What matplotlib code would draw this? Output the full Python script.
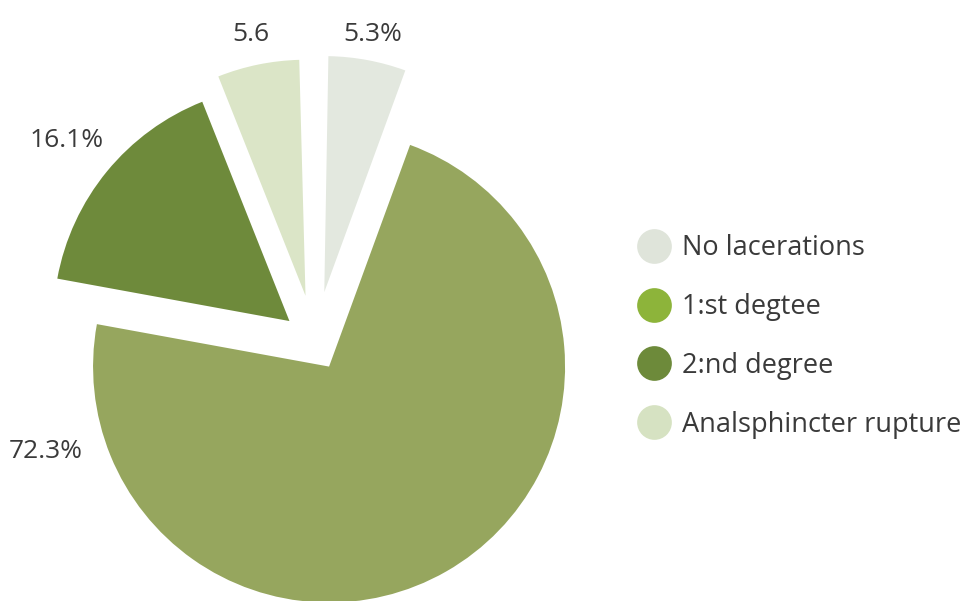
import matplotlib.pyplot as plt
from matplotlib.lines import Line2D

# values go clockwise from the top, in percent
categories = ["No lacerations", "1:st degtee", "2:nd degree", "Analsphincter rupture"]
shares = [5.3, 72.3, 16.1, 5.6]
value_labels = ["5.3%", "72.3%", "16.1%", "5.6"]

slice_colors = ["#e3e8df", "#96a65e", "#6e8a3b", "#dbe5c7"]
legend_colors = ["#dfe4da", "#8db43a", "#6d8a3a", "#d6e2c2"]
explode = [0.215, 0.12, 0.14, 0.20]

# where each value label sits, in pie-radius units from the centre
label_pos = [(0.244, 1.301), (-1.141, -0.462), (-1.053, 0.852), (-0.273, 1.301)]

plt.rcParams['font.family'] = ['Open Sans', 'DejaVu Sans']
text_color = "#3a3a3a"

fig = plt.figure(figsize=(9.65, 6.01), dpi=100)
W, H = 965, 601
cx, cy, half = 315.0, 342.0, 354.0
ax = fig.add_axes([(cx - half) / W, (H - cy - half) / H, 2 * half / W, 2 * half / H])

# shares don't add up to 100, so keep them unnormalised (leaves a small gap)
ax.pie([s / 100 for s in shares], explode=explode, colors=slice_colors,
       startangle=89, counterclock=False, normalize=False, radius=1.0,
       wedgeprops=dict(linewidth=0))
ax.set_xlim(-1.5, 1.5)
ax.set_ylim(-1.5, 1.5)
ax.set_aspect('equal')
ax.axis('off')

for txt, (x, y) in zip(value_labels, label_pos):
    ax.text(x, y, txt, ha='center', va='center', fontsize=19, color=text_color)

handles = [Line2D([], [], linestyle='', marker='o', markersize=25,
                  markerfacecolor=c, markeredgewidth=0) for c in legend_colors]
fig.legend(handles, categories, loc='center left',
           bbox_to_anchor=(636.5 / W, 1 - 336.5 / H), frameon=False,
           fontsize=19.5, labelcolor=text_color, handlelength=1.29,
           handletextpad=0.39, labelspacing=1.14, borderpad=0, borderaxespad=0)

fig.savefig("out.png", dpi=100)
